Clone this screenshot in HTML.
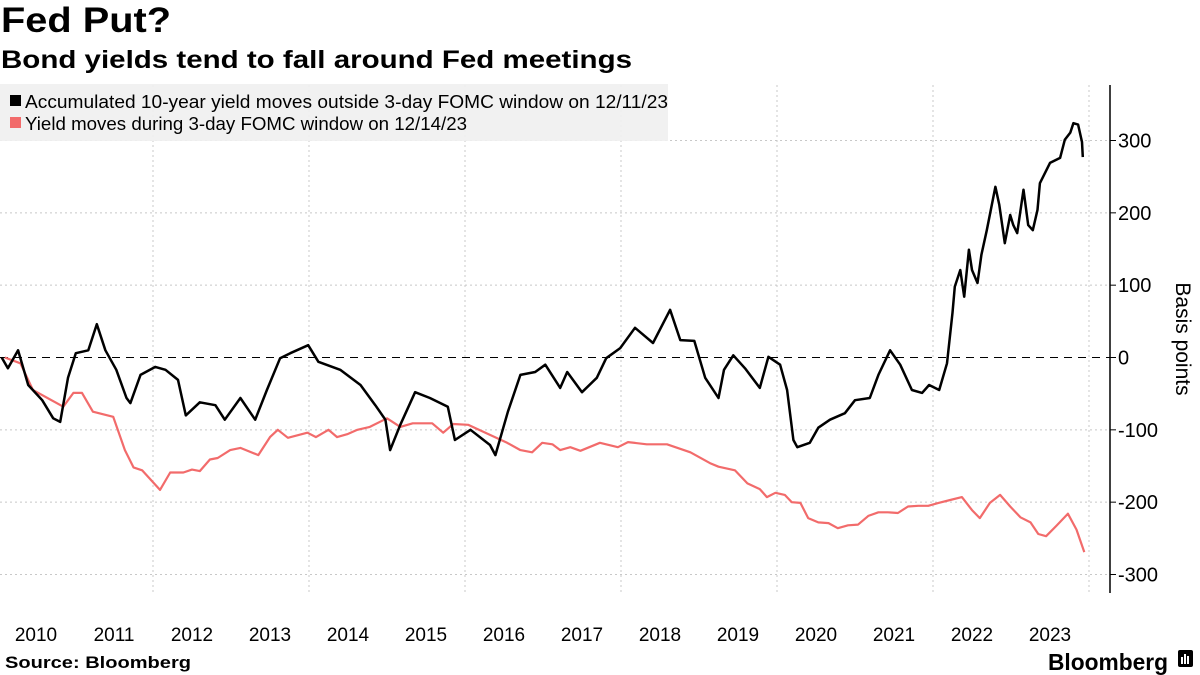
<!DOCTYPE html>
<html><head><meta charset="utf-8">
<style>
html,body{margin:0;padding:0;background:#fff;}
svg{display:block;font-family:"Liberation Sans","DejaVu Sans",sans-serif;}
</style></head>
<body>
<svg id="chart" width="1200" height="675" viewBox="0 0 1200 675" xmlns="http://www.w3.org/2000/svg">
  <text x="1" y="32" font-size="35" font-weight="bold" textLength="170" lengthAdjust="spacingAndGlyphs">Fed Put?</text>
  <text x="1" y="68" font-size="25" font-weight="bold" textLength="631" lengthAdjust="spacingAndGlyphs">Bond yields tend to fall around Fed meetings</text>
  <g id="grid"></g>
  <g id="series"></g>
  <g>
    <rect x="0" y="84" width="668" height="57" fill="#f0f0f0" opacity="0.92"/>
    <rect x="10" y="95" width="11" height="11" fill="#000"/>
    <text x="25" y="108" font-size="18" textLength="643" lengthAdjust="spacingAndGlyphs">Accumulated 10-year yield moves outside 3-day FOMC window on 12/11/23</text>
    <rect x="10" y="117" width="11" height="11" fill="#f26b6b"/>
    <text x="25" y="130" font-size="18" textLength="442" lengthAdjust="spacingAndGlyphs">Yield moves during 3-day FOMC window on 12/14/23</text>
  </g>
  <g id="yaxis"></g>
  <g id="xaxis"></g>
  <text transform="translate(1176,339) rotate(90)" text-anchor="middle" font-size="21">Basis points</text>
  <text x="5" y="668" font-size="17" font-weight="bold" textLength="186" lengthAdjust="spacingAndGlyphs">Source: Bloomberg</text>
  <text x="1048" y="670" font-size="23" font-weight="bold" textLength="120" lengthAdjust="spacingAndGlyphs">Bloomberg</text>
  <g>
    <rect x="1178" y="650" width="15" height="17" rx="2" fill="#000"/>
    <rect x="1181" y="657" width="2" height="7" fill="#fff"/>
    <rect x="1184" y="654" width="2" height="10" fill="#fff"/>
    <rect x="1187" y="656" width="2" height="8" fill="#fff"/>
  </g>
</svg>
<script>
const yTicks = [300, 200, 100, 0, -100, -200, -300];
const yearLabels = [2010, 2011, 2012, 2013, 2014, 2015, 2016, 2017, 2018, 2019, 2020, 2021, 2022, 2023];
const gridYears = [2012, 2014, 2016, 2018, 2020, 2022, 2024];
const blackDates = [2010.06,2010.14,2010.27,2010.40,2010.58,2010.72,2010.81,2010.91,2011.01,2011.17,2011.28,2011.39,2011.53,2011.66,2011.71,2011.84,2012.03,2012.16,2012.32,2012.42,2012.60,2012.80,2012.92,2013.12,2013.31,2013.46,2013.63,2013.76,2013.99,2014.12,2014.40,2014.66,2014.85,2014.98,2015.04,2015.17,2015.36,2015.55,2015.78,2015.87,2016.07,2016.32,2016.39,2016.55,2016.71,2016.90,2017.03,2017.22,2017.31,2017.50,2017.69,2017.81,2017.99,2018.18,2018.41,2018.63,2018.76,2018.94,2019.08,2019.25,2019.32,2019.44,2019.59,2019.78,2019.89,2020.04,2020.13,2020.21,2020.26,2020.42,2020.53,2020.68,2020.87,2021.00,2021.19,2021.30,2021.45,2021.58,2021.73,2021.86,2021.95,2022.08,2022.18,2022.25,2022.28,2022.35,2022.40,2022.46,2022.50,2022.57,2022.62,2022.69,2022.80,2022.85,2022.92,2022.99,2023.03,2023.08,2023.16,2023.22,2023.28,2023.34,2023.37,2023.50,2023.63,2023.69,2023.76,2023.80,2023.86,2023.91,2023.92];
const blackValues = [0,-15,10,-38,-59,-84,-89,-28,6,10,46,10,-17,-56,-63,-24,-13,-17,-31,-80,-62,-66,-86,-56,-86,-45,-1,6,17,-6,-17,-38,-66,-86,-128,-93,-48,-56,-68,-114,-100,-121,-135,-75,-24,-20,-10,-42,-20,-48,-28,-1,13,41,20,66,24,23,-28,-56,-17,3,-15,-42,1,-10,-45,-114,-124,-118,-97,-86,-77,-59,-56,-24,10,-10,-45,-49,-38,-45,-8,62,98,121,84,149,121,103,142,176,236,211,158,197,183,172,232,183,176,204,241,269,276,301,311,324,322,298,277];
const redDates = [2010.10,2010.30,2010.46,2010.85,2010.98,2011.09,2011.23,2011.49,2011.64,2011.75,2011.86,2012.09,2012.22,2012.39,2012.50,2012.60,2012.73,2012.83,2012.99,2013.12,2013.35,2013.50,2013.60,2013.73,2013.98,2014.09,2014.25,2014.36,2014.49,2014.62,2014.78,2015.00,2015.17,2015.33,2015.58,2015.72,2015.85,2016.04,2016.32,2016.54,2016.71,2016.86,2016.99,2017.12,2017.22,2017.35,2017.48,2017.73,2017.96,2018.09,2018.33,2018.59,2018.89,2019.14,2019.25,2019.46,2019.62,2019.78,2019.87,2019.98,2020.10,2020.19,2020.30,2020.40,2020.53,2020.66,2020.78,2020.91,2021.04,2021.17,2021.30,2021.42,2021.55,2021.68,2021.81,2021.94,2022.07,2022.22,2022.37,2022.50,2022.60,2022.73,2022.86,2022.99,2023.12,2023.25,2023.35,2023.45,2023.58,2023.73,2023.84,2023.94];
const redValues = [0,-8,-45,-68,-49,-49,-75,-82,-128,-152,-156,-183,-159,-159,-155,-157,-141,-139,-128,-125,-135,-110,-100,-111,-104,-110,-100,-110,-106,-100,-96,-84,-96,-91,-91,-104,-92,-93,-107,-118,-128,-131,-118,-120,-128,-124,-129,-118,-124,-117,-120,-120,-131,-146,-151,-156,-174,-182,-193,-187,-190,-200,-201,-222,-228,-229,-236,-232,-231,-219,-214,-214,-215,-206,-205,-205,-201,-197,-193,-211,-222,-201,-190,-206,-221,-228,-244,-247,-233,-216,-238,-269];

const NS = "http://www.w3.org/2000/svg";
const xScale = t => -3 + (t - 2010) * 78;
const yScale = v => 357.5 - v * 0.7233;
const plotTop = 85, plotBottom = 593, axisX = 1110;
function mk(tag, attrs, parent) {
  const el = document.createElementNS(NS, tag);
  for (const k in attrs) el.setAttribute(k, attrs[k]);
  parent.appendChild(el);
  return el;
}
const gridG = document.getElementById('grid');
const yaxisG = document.getElementById('yaxis');
const xaxisG = document.getElementById('xaxis');
const seriesG = document.getElementById('series');

yTicks.forEach(v => {
  const y = yScale(v);
  const gl = mk('line', {x1: 0, x2: axisX, y1: y, y2: y, stroke: v === 0 ? '#000' : '#c8c8c8', 'stroke-width': 1, 'stroke-dasharray': v === 0 ? '8,6' : '2,3'}, v === 0 ? seriesG : gridG);
  
  
  const tk = mk('line', {x1: axisX, x2: axisX + 6, y1: y, y2: y, stroke: '#000', 'stroke-width': 1}, yaxisG);
  
  
  const lb = mk('text', {x: axisX + 8, y: y + 7, 'font-size': 20}, yaxisG);
  
  
  lb.textContent = v < 0 ? '-' + Math.abs(v) : String(v);
});
gridYears.forEach(yr => {
  const x = xScale(yr);
  const gl = mk('line', {x1: x, x2: x, y1: plotTop, y2: plotBottom, stroke: '#c8c8c8', 'stroke-width': 1, 'stroke-dasharray': '2,3'}, gridG);
  
  
});
const ax = mk('line', {x1: axisX, x2: axisX, y1: plotTop, y2: plotBottom, stroke: '#000', 'stroke-width': 1.5}, yaxisG);


yearLabels.forEach(yr => {
  const lb = mk('text', {x: xScale(yr + 0.5), y: 641, 'font-size': 19, 'text-anchor': 'middle'}, xaxisG);
  
  
  lb.textContent = String(yr);
});
function pathD(dates, vals) {
  return dates.map((d, i) => (i ? 'L' : 'M') + xScale(d).toFixed(1) + ',' + yScale(vals[i]).toFixed(1)).join(' ');
}
const red = mk('path', {d: pathD(redDates, redValues), fill: 'none', stroke: '#f26b6b', 'stroke-width': 2.2, 'stroke-linejoin': 'round'}, seriesG);


const blk = mk('path', {d: pathD(blackDates, blackValues), fill: 'none', stroke: '#000', 'stroke-width': 2.5, 'stroke-linejoin': 'round'}, seriesG);


</script>
</body></html>
